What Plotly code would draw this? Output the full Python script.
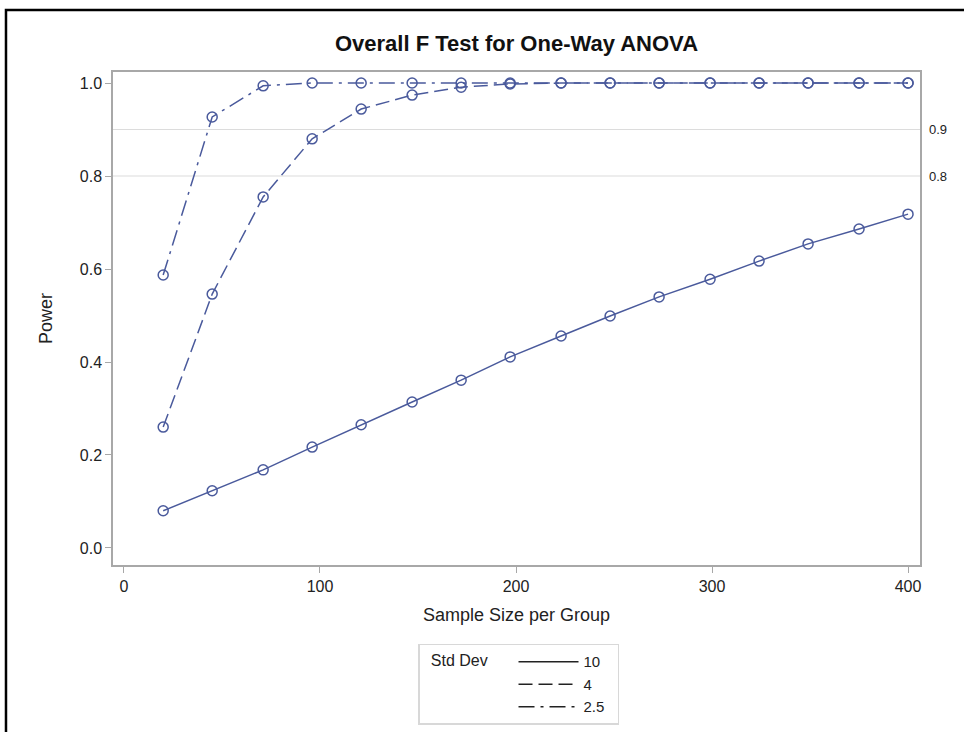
import plotly.graph_objects as go

sample_size = [20, 45, 71, 96, 121, 147, 172, 197, 223, 248, 273, 299, 324, 349, 375, 400]
power_sd10 = [0.080, 0.123, 0.168, 0.217, 0.265, 0.314, 0.361, 0.411, 0.456, 0.499,
              0.540, 0.578, 0.617, 0.654, 0.686, 0.718]
power_sd4 = [0.260, 0.546, 0.755, 0.880, 0.944, 0.974, 0.991, 0.998, 1.000, 1.000,
             1.000, 1.000, 1.000, 1.000, 1.000, 1.000]
power_sd25 = [0.587, 0.927, 0.994, 1.000, 1.000, 1.000, 1.000, 1.000, 1.000, 1.000,
              1.000, 1.000, 1.000, 1.000, 1.000, 1.000]
std_devs = ["10", "4", "2.5"]
ref_levels = [0.9, 0.8]
x_ticks = [0, 100, 200, 300, 400]
y_ticks = [0.0, 0.2, 0.4, 0.6, 0.8, 1.0]

color = "#4a5a9c"
dashes = ["solid", "14px,6px", "16px,6px,3px,6px"]
series = [power_sd10, power_sd4, power_sd25]

fig = go.Figure()
for name, ys, d in zip(std_devs, series, dashes):
    fig.add_trace(go.Scatter(
        x=sample_size, y=ys, mode="lines+markers", showlegend=False,
        line=dict(color=color, width=1.5, dash=d),
        marker=dict(symbol="circle-open", size=10, color=color, line=dict(width=1.5)),
    ))
# legend entries (lines only)
for name, d in zip(std_devs, dashes):
    fig.add_trace(go.Scatter(
        x=[None], y=[None], mode="lines", name=name + "\u00a0\u00a0",
        line=dict(color="#222222", width=1.5, dash=d),
    ))

for r in ref_levels:
    fig.add_hline(y=r, line=dict(color="#dcdcdc", width=1.2), layer="below")
    fig.add_annotation(x=1.0, xref="paper", y=r, yref="y", text=f"{r:.1f}",
                       showarrow=False, xanchor="left", xshift=7,
                       font=dict(size=13, color="#222"))

# outer frame
fig.add_shape(type="rect", xref="paper", yref="paper",
              x0=-0.1326, x1=1.2, y0=-0.5, y1=1.1258,
              line=dict(color="black", width=2.5), fillcolor="rgba(0,0,0,0)")

fig.update_layout(
    width=964, height=732,
    margin=dict(l=113, r=44, t=72, b=167, autoexpand=False),
    paper_bgcolor="white", plot_bgcolor="white",
    font=dict(family="Liberation Sans, Arial, sans-serif", size=16, color="#222"),
    title=dict(text="<b>Overall F Test for One-Way ANOVA</b>", x=0.5, xref="paper",
               xanchor="center", y=0.941, yanchor="middle",
               font=dict(size=22, color="#111")),
    xaxis=dict(range=[-5.6, 406.1], tickvals=x_ticks, showgrid=False, zeroline=False,
               showline=True, linecolor="#a8a8a8", linewidth=1.5, mirror=True,
               ticks="outside", ticklen=6, tickcolor="#a8a8a8",
               tickfont=dict(size=16),
               title=dict(text="Sample Size per Group", font=dict(size=18), standoff=14)),
    yaxis=dict(range=[-0.0366, 1.0237], tickvals=y_ticks, tickformat=".1f",
               showgrid=False, zeroline=False,
               showline=True, linecolor="#a8a8a8", linewidth=1.5, mirror=True,
               ticks="outside", ticklen=6, tickcolor="#a8a8a8",
               tickfont=dict(size=16),
               title=dict(text="Power", font=dict(size=18), standoff=22)),
    legend=dict(x=0.503, xanchor="center", y=-0.160, yanchor="top",
                orientation="v", bordercolor="#d8d8d8", borderwidth=1.5,
                title=dict(text="\u00a0\u00a0Std Dev\u00a0\u00a0\u00a0\u00a0", side="left",
                           font=dict(size=16)),
                font=dict(size=15), tracegroupgap=0, itemwidth=60),
)

fig.write_html("out.html", post_script="document.body.style.margin='0';",
               config={"displayModeBar": False})
